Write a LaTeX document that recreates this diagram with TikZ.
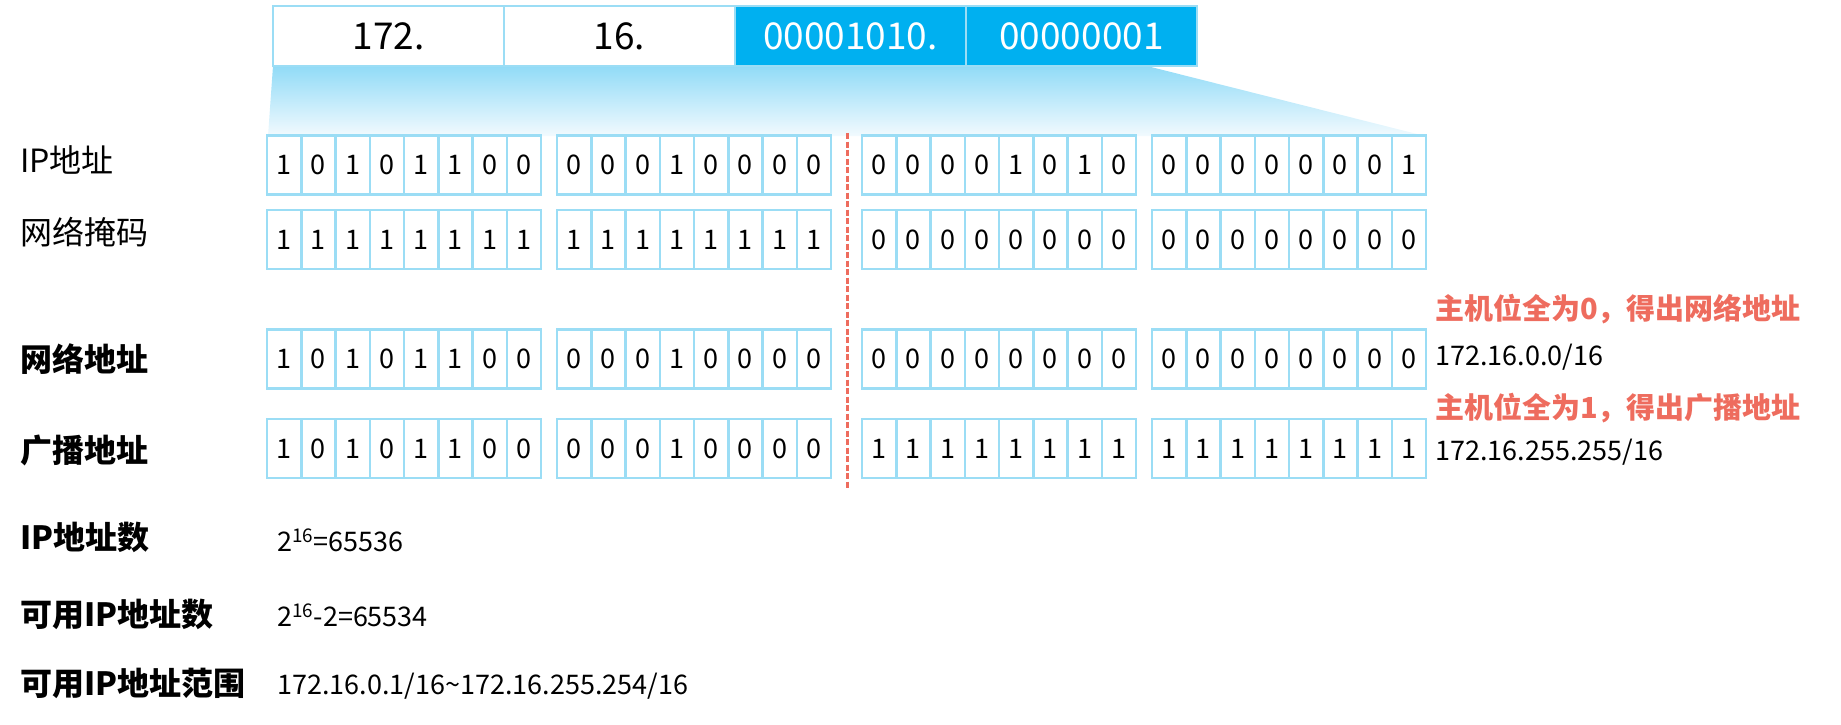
\documentclass[tikz,border=0pt]{standalone}
\usepackage{fontspec}
\setmainfont{Noto Sans CJK SC}
\definecolor{cellblue}{RGB}{155,221,245}
\definecolor{topblue}{RGB}{0,176,240}
\definecolor{hostred}{RGB}{238,108,94}
\definecolor{gradtop}{RGB}{145,219,247}
\definecolor{gradbot}{RGB}{242,250,254}
\newcommand{\bitrow}[3]{%
  \foreach \b [count=\i from 0] in {#3} {%
    \pgfmathtruncatemacro{\g}{int(\i/8)}%
    \pgfmathtruncatemacro{\p}{mod(\i,8)}%
    \pgfmathsetmacro{\gx}{{267,557,862,1152}[\g]}%
    \node[bitcell] (#1-\i) at (\gx+\p*34.25+17.125, #2) {\b};
  }}
\begin{document}
\begin{tikzpicture}[x=1pt,y=-1pt,
  topbox/.style={draw=cellblue, line width=2.5pt, minimum width=231pt, minimum height=60pt, inner sep=0pt, font=\fontsize{37}{44}\selectfont},
  bitcell/.style={draw=cellblue, line width=2.5pt, minimum width=34.25pt, minimum height=59pt, inner sep=0pt, font=\fontsize{27}{32}\selectfont},
  rowlabel/.style={anchor=west, inner sep=0pt, font=\fontsize{32}{38}\selectfont},
  boldlabel/.style={anchor=west, inner sep=0pt, font=\fontsize{32}{38}\selectfont\bfseries},
  valtext/.style={anchor=west, inner sep=0pt, font=\fontsize{27}{32}\selectfont},
  redtext/.style={anchor=west, inner sep=0pt, text=hostred, font=\fontsize{29}{35}\selectfont\bfseries}]
\useasboundingbox (0,0) rectangle (1841,724);
% gradient zoom band
\shade[top color=gradtop, bottom color=gradbot] (273,66) -- (1147,66) -- (1425,136) -- (268,136) -- cycle;
% top boxes
\node[topbox, fill=white] (t1) at (388.5,36) {172.};
\node[topbox, fill=white] (t2) at (619.5,36) {16.};
\node[topbox, fill=topblue, text=white] (t3) at (850.5,36) {00001010.};
\node[topbox, fill=topblue, text=white] (t4) at (1081.5,36) {00000001};
% bit rows
\bitrow{ip}{165}{1,0,1,0,1,1,0,0,0,0,0,1,0,0,0,0,0,0,0,0,1,0,1,0,0,0,0,0,0,0,0,1}
\bitrow{mask}{239.5}{1,1,1,1,1,1,1,1,1,1,1,1,1,1,1,1,0,0,0,0,0,0,0,0,0,0,0,0,0,0,0,0}
\bitrow{net}{359}{1,0,1,0,1,1,0,0,0,0,0,1,0,0,0,0,0,0,0,0,0,0,0,0,0,0,0,0,0,0,0,0}
\bitrow{bc}{448.5}{1,0,1,0,1,1,0,0,0,0,0,1,0,0,0,0,1,1,1,1,1,1,1,1,1,1,1,1,1,1,1,1}
% divider
\coordinate (dtop) at (847,133);
\coordinate (dbot) at (847,488);
\draw[hostred, line width=3pt, dash pattern=on 6pt off 2.5pt] (dtop) -- (dbot);
% left labels
\node[rowlabel] (lip) at (20,160) {IP地址};
\node[rowlabel] (lmask) at (20,232) {网络掩码};
\node[boldlabel] (lnet) at (20,359) {网络地址};
\node[boldlabel] (lbc) at (20,450) {广播地址};
\node[boldlabel] (lcnt) at (20,537) {IP地址数};
\node[boldlabel] (luse) at (20,614) {可用IP地址数};
\node[boldlabel] (lrng) at (20,683) {可用IP地址范围};
% values
\node[valtext] (vcnt) at (277,540) {2\textsuperscript{16}=65536};
\node[valtext] (vuse) at (277,615) {2\textsuperscript{16}-2=65534};
\node[valtext] (vrng) at (277,686) {172.16.0.1/16\textasciitilde172.16.255.254/16};
% right annotations
\node[redtext] (rnet) at (1435,309) {主机位全为0，得出网络地址};
\node[valtext] (vnet) at (1435,357) {172.16.0.0/16};
\node[redtext] (rbc) at (1435,408) {主机位全为1，得出广播地址};
\node[valtext] (vbc) at (1435,452) {172.16.255.255/16};
\end{tikzpicture}
\end{document}
